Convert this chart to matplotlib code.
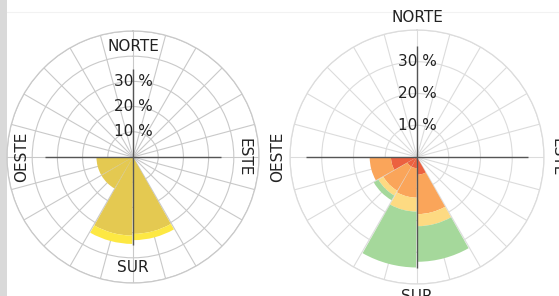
import numpy as np
import matplotlib
matplotlib.use("Agg")
import matplotlib.pyplot as plt
from matplotlib.patches import Rectangle
from matplotlib.lines import Line2D

# ---- data -------------------------------------------------------------
# direction sectors (start angle, degrees, clockwise from north), 30 deg each
sector_start = [0, 30, 60, 90, 120, 150, 180, 210, 240, 270, 300, 330]

# left rose: two categories (percent)
left_dark = [0, 0, 0, 0, 0, 30.5, 31.2, 14.5, 14.5, 0, 0, 0]
left_bright = [0, 0, 0, 0, 0, 2.5, 3.3, 0.0, 0.0, 0, 0, 0]

# right rose: four stacked classes (percent)
right_red = [0, 0, 0, 0, 0, 5.6, 3.5, 3.5, 8.2, 0, 0, 0]
right_orange = [0, 0, 0, 0, 0, 12.4, 9.3, 8.8, 6.7, 0, 0, 0]
right_yellow = [0, 0, 0, 0, 0, 3.8, 4.4, 1.8, 0.0, 0, 0, 0]
right_green = [0, 0, 0, 0, 0, 11.2, 17.6, 1.7, 0.0, 0, 0, 0]

ring_labels = [10, 20, 30]
dir_labels = ["NORTE", "ESTE", "SUR", "OESTE"]

# ---- figure -----------------------------------------------------------
W, H = 559, 296
fig = plt.figure(figsize=(W / 100, H / 100), dpi=100)
fig.patch.set_facecolor("white")

# page decorations (screenshot context)
fig.add_artist(Rectangle((0, 0), 7 / W, 1, transform=fig.transFigure,
                         facecolor="#d9d9d9", edgecolor="none", zorder=0))
fig.add_artist(Line2D([7 / W, 1], [1 - 12 / H, 1 - 12 / H], transform=fig.transFigure,
                      color="#f2f2f2", lw=0.8, zorder=0))


def setup(ax, rmax, rings, gridcol):
    ax.set_theta_zero_location("N")
    ax.set_theta_direction(-1)
    ax.set_ylim(0, rmax)
    ax.set_xticks(np.deg2rad(np.arange(0, 360, 15)))
    ax.set_xticklabels([])
    ax.set_yticks(rings)
    ax.set_yticklabels([])
    ax.tick_params(length=0)
    ax.set_axisbelow(True)
    ax.grid(True, color=gridcol, lw=0.8)
    ax.spines["polar"].set_color(gridcol)
    ax.spines["polar"].set_linewidth(0.9)
    ax.patch.set_facecolor("white")
    # cross lines
    for ang in [0, 90, 180, 270]:
        ax.plot([np.deg2rad(ang), np.deg2rad(ang)], [0, 35], color="#555555",
                lw=1.0, zorder=3, solid_capstyle="butt")
    for r in ring_labels:
        ax.text(0, r, f"{r} %", ha="center", va="center", fontsize=11,
                color="#222222", zorder=4)
    for lab, ang, rot in zip(dir_labels, [0, 90, 180, 270], [0, -90, 0, 90]):
        ax.text(np.deg2rad(ang), 44, lab, ha="center", va="center", fontsize=11,
                rotation=rot, color="#222222", clip_on=False, zorder=4)


theta = np.deg2rad(np.array(sector_start) + 15)
width = np.deg2rad(29)

# left rose
ax1 = fig.add_axes([7 / W, 13 / H, 252 / W, 252 / H], projection="polar")
setup(ax1, 50, [10, 20, 30, 40, 50], "#c9c9c9")
bottom = np.zeros(len(sector_start))
for vals, col in [(left_dark, "#e4c951"), (left_bright, "#fde843")]:
    ax1.bar(theta, vals, width=width, bottom=bottom, color=col, edgecolor="none", zorder=2)
    bottom = bottom + np.array(vals)

# right rose
ax2 = fig.add_axes([290 / W, 12 / H, 254 / W, 254 / H], projection="polar")
setup(ax2, 40, [10, 20, 30, 40], "#dcdcdc")
bottom = np.zeros(len(sector_start))
for vals, col in [(right_red, "#ec6140"), (right_orange, "#faa55a"),
                  (right_yellow, "#fdda82"), (right_green, "#a5d89b")]:
    ax2.bar(theta, vals, width=width, bottom=bottom, color=col, edgecolor="none", zorder=2)
    bottom = bottom + np.array(vals)

fig.savefig("out.png", dpi=100, facecolor="white")
